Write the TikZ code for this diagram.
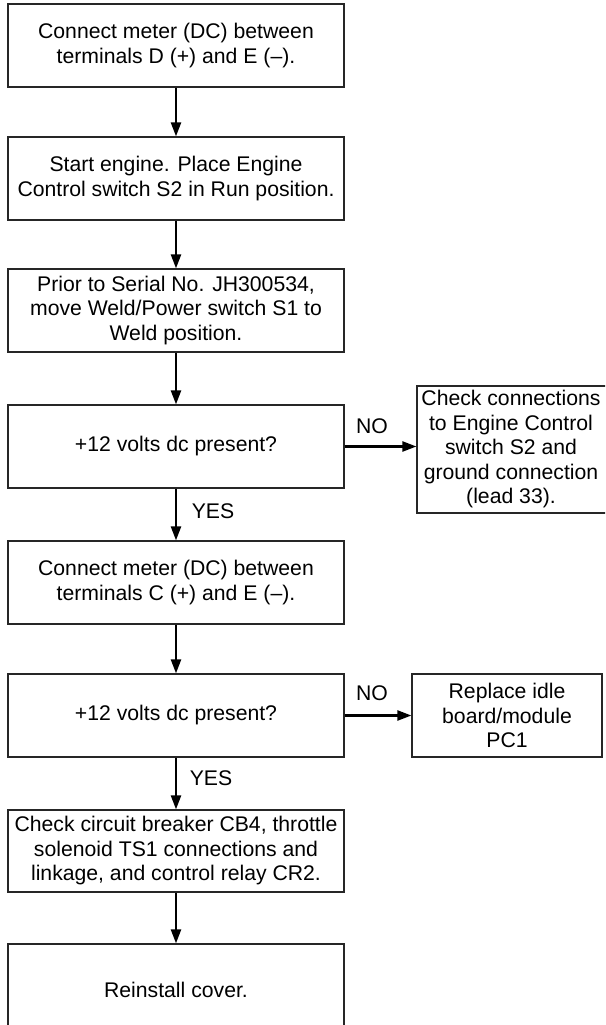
\documentclass[tikz,border=0pt]{standalone}
\usepackage{fontspec}
\setmainfont{Liberation Sans}
\usetikzlibrary{arrows.meta}
\begin{document}
\begin{tikzpicture}[x=1pt,y=-1pt,
  txt/.style={font=\fontsize{21.2}{24.5}\selectfont},
  box/.style={draw=black!85, line width=1.2pt, align=center, inner sep=0pt, txt},
  mainbox/.style={box, minimum width=336pt, minimum height=83pt},
  sidebox/.style={box, minimum width=190pt},
  flow/.style={line width=2.3pt, -{Triangle[length=14pt,width=10pt]}},
  lbl/.style={txt, inner sep=0pt}]
\useasboundingbox (0,0) rectangle (605,1025);
\clip (0,0) rectangle (605,1025);
\node[mainbox] (b1) at (176,45.5) {Connect meter (DC) between\\terminals D (+) and E (–).};
\node[mainbox] (b2) at (176,178.5) {Start engine. Place Engine\\Control switch S2 in Run position.};
\node[mainbox] (b3) at (176,310.5) {Prior to Serial No. JH300534,\\move Weld/Power switch S1 to\\Weld position.};
\node[mainbox] (b4) at (176,446.5) {+12 volts dc present?};
\node[mainbox] (b5) at (176,582.5) {Connect meter (DC) between\\terminals C (+) and E (–).};
\node[mainbox] (b6) at (176,715.5) {+12 volts dc present?};
\node[mainbox, minimum height=82pt] (b7) at (176,851) {Check circuit breaker CB4, throttle\\solenoid TS1 connections and\\linkage, and control relay CR2.};
\node[mainbox, minimum height=92pt] (b8) at (176,990) {Reinstall cover.};
\node[box, minimum width=200pt, minimum height=127pt] (r1) at (517,449.5) {};
\node[lbl, align=center] (r1t) at (511,449.5) {Check connections\\to Engine Control\\switch S2 and\\ground connection\\(lead 33).};
\node[sidebox, minimum height=83pt] (r2) at (507,715.5) {Replace idle\\board/module\\PC1};
\draw[flow] (b1.south) -- (b2.north);
\draw[flow] (b2.south) -- (b3.north);
\draw[flow] (b3.south) -- (b4.north);
\draw[flow] (b4.south) -- (b5.north);
\draw[flow] (b5.south) -- (b6.north);
\draw[flow] (b6.south) -- (b7.north);
\draw[flow] (b7.south) -- (b8.north);
\draw[flow] (b4.east) -- (b4.east -| r1.west);
\draw[flow] (b6.east) -- (r2.west);
\node[lbl] (no1) at (372,426) {NO};
\node[lbl] (no2) at (372,693) {NO};
\node[lbl] (yes1) at (213,511) {YES};
\node[lbl] (yes2) at (211,778) {YES};
\end{tikzpicture}
\end{document}
